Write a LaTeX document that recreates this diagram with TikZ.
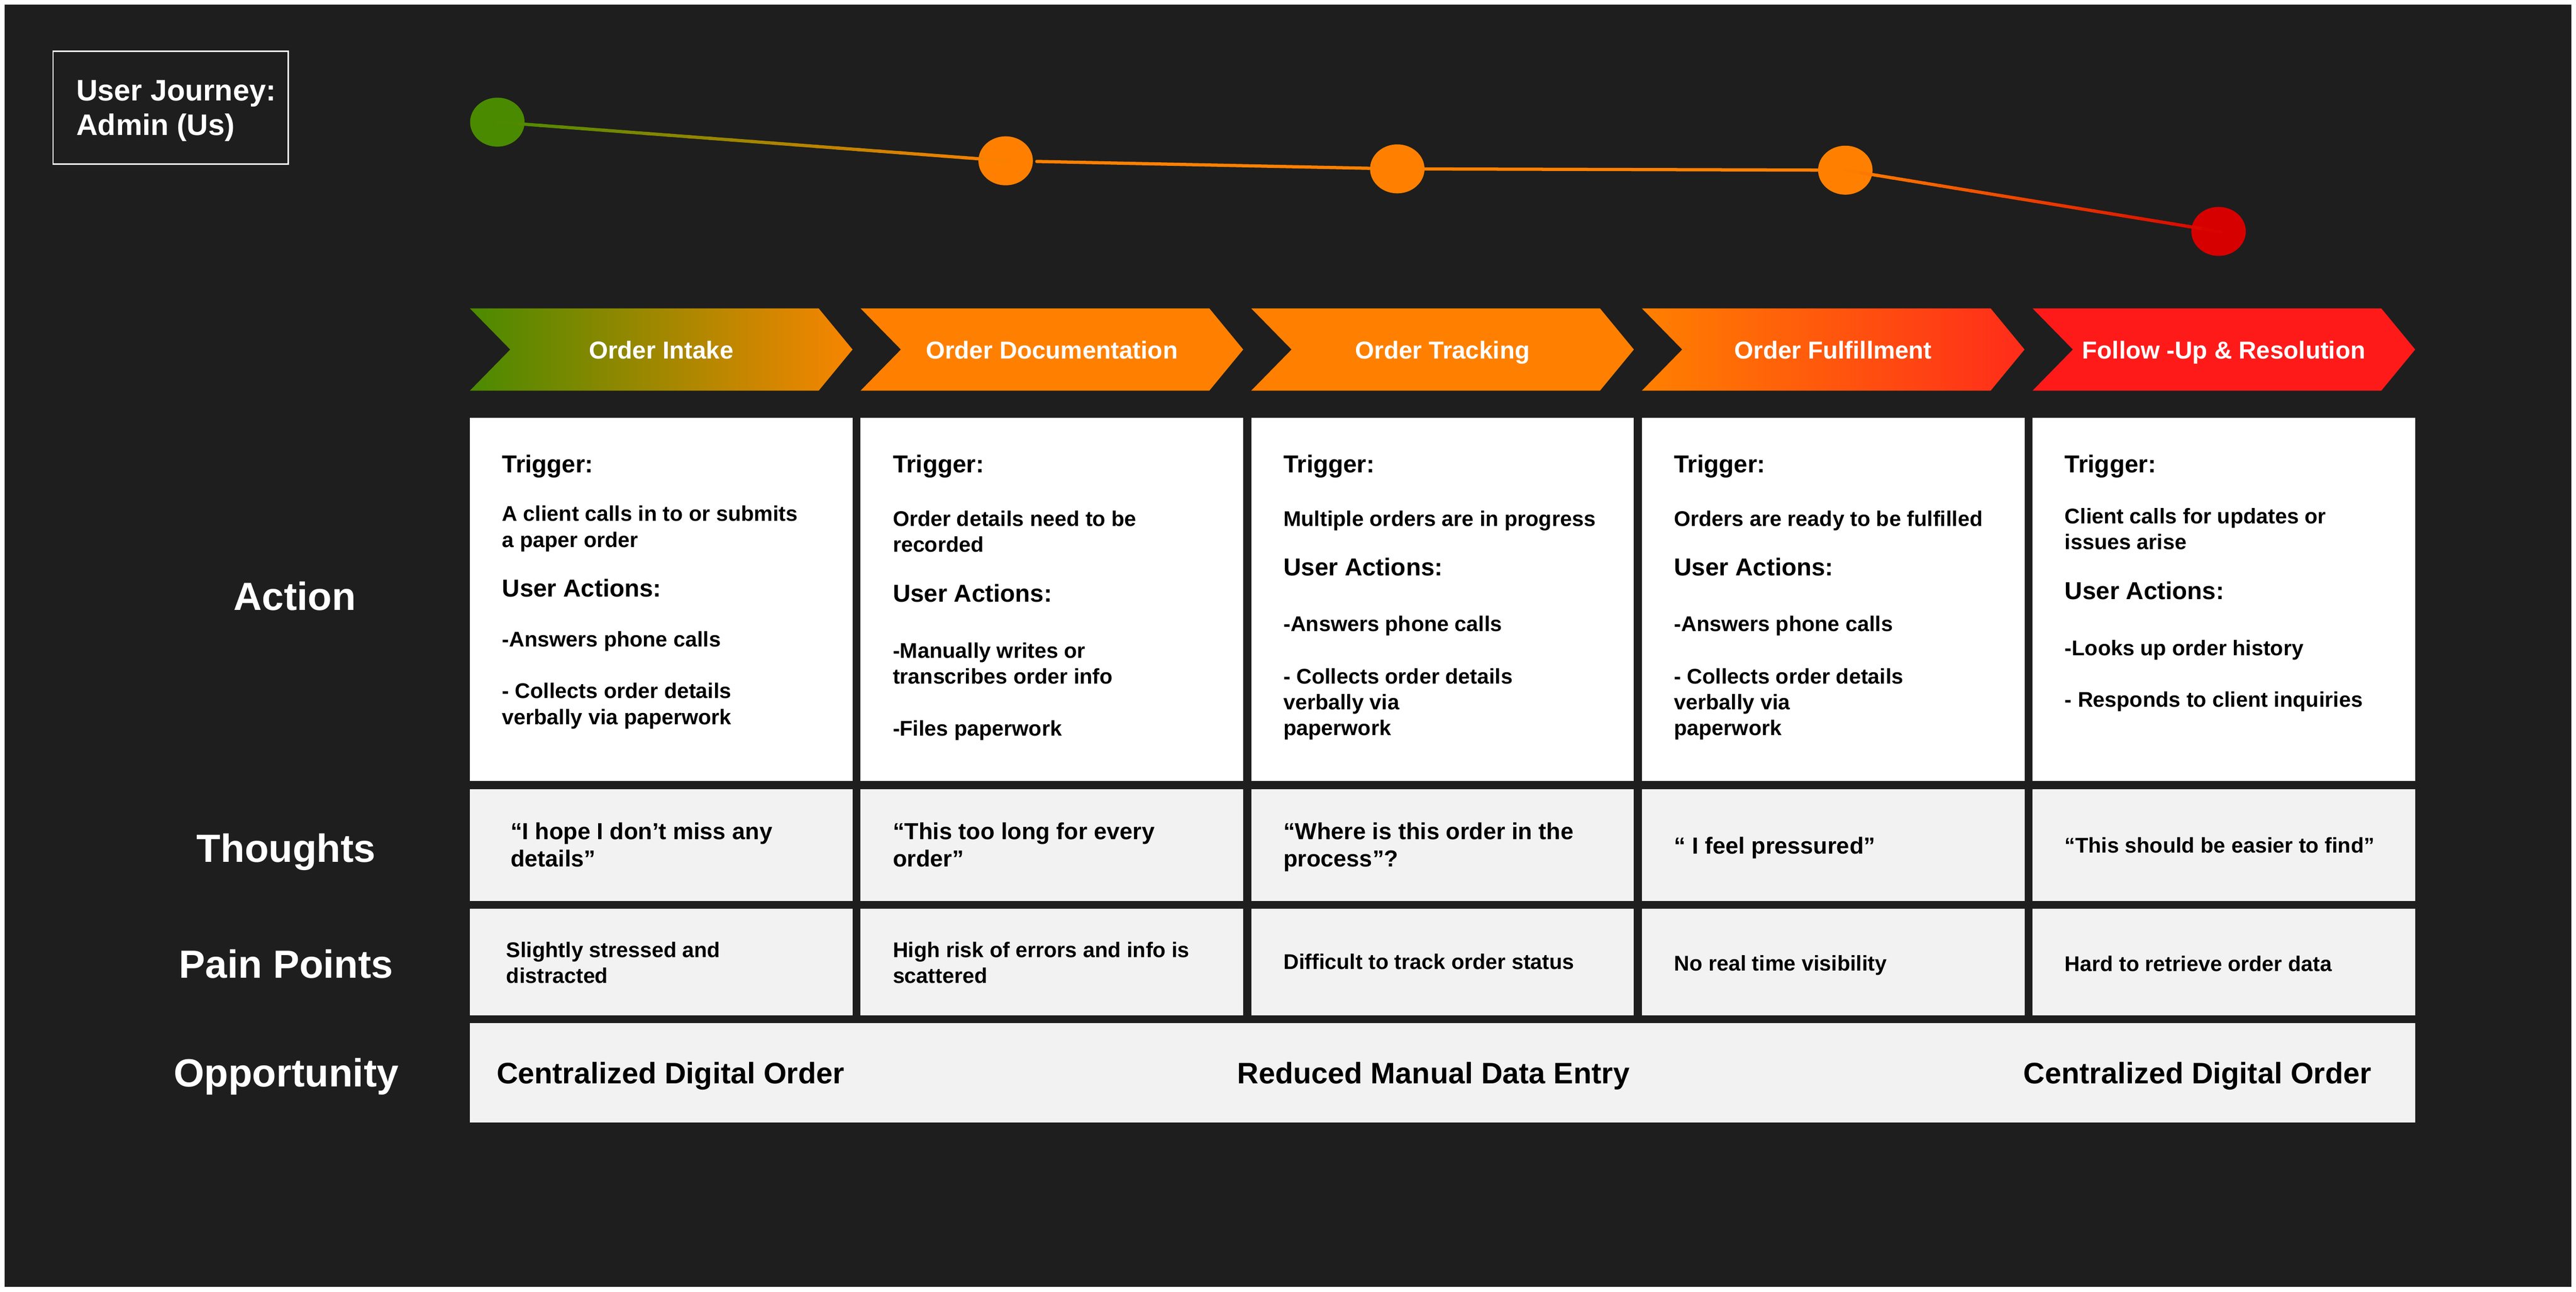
\documentclass[tikz,border=0pt]{standalone}
\usepackage{fontspec}
\setmainfont{Liberation Sans}
\usetikzlibrary{positioning,shapes.geometric,calc}
\definecolor{jbg}{HTML}{1E1E1E}
\definecolor{jgreen}{HTML}{4A8A00}
\definecolor{jorange}{HTML}{FF8000}
\definecolor{jorangeb}{HTML}{F88500}
\definecolor{jred}{HTML}{FF1A1A}
\definecolor{jredb}{HTML}{FF2C1A}
\definecolor{jdot}{HTML}{D60000}
\definecolor{jgray}{HTML}{F2F2F2}

\begin{document}
\begin{tikzpicture}[x=1pt, y=-1pt, font=\bfseries,
  cell/.style = {anchor=north west, minimum width=118.7pt, inner sep=0, outer sep=0},
  act/.style = {cell, fill=white, minimum height=112.7pt},
  thought/.style = {cell, fill=jgray, minimum height=34.8pt},
  pain/.style = {cell, fill=jgray, minimum height=33pt},
  dot/.style = {ellipse, minimum width=16.9pt, minimum height=15.2pt, inner sep=0},
  jline/.style = {line width=1pt, line cap=round},
  stagelbl/.style = {anchor=base, inner sep=0, text=white, font=\bfseries\fontsize{7.6}{9}\selectfont},
  rowlbl/.style = {anchor=base, inner sep=0, text=white, font=\bfseries\fontsize{12.2}{14}\selectfont},
  ttltxt/.style = {anchor=base west, inner sep=0, text=white, font=\bfseries\fontsize{9.2}{11}\selectfont},
  head/.style = {anchor=base west, inner sep=0, font=\bfseries\fontsize{7.6}{9}\selectfont},
  body/.style = {anchor=base west, inner sep=0, font=\bfseries\fontsize{6.6}{8}\selectfont},
  quote/.style = {body, font=\bfseries\fontsize{7.2}{8.5}\selectfont},
  opptxt/.style = {inner sep=0, font=\bfseries\fontsize{9.2}{11}\selectfont}]

% page
\fill[white] (0,0) rectangle (799.2,400.8);
\fill[jbg] (1.5,1.5) rectangle (797.7,399.3);

% title
\node[draw=white, line width=0.4pt, anchor=north west, minimum width=72.9pt, minimum height=35pt, inner sep=0] (ttl) at (16.3,15.7) {};
\node[ttltxt] (ttl1) at (23.5,31.3) {User Journey:};
\node[ttltxt] (ttl2) at (23.5,41.9) {Admin (Us)};

% journey line
\node[dot, fill=jgreen] (d1) at (154.3,37.9) {};
\node[dot, fill=jorange] (d2) at (312.0,49.9) {};
\node[dot, fill=jorange] (d3) at (433.5,52.4) {};
\node[dot, fill=jorange] (d4) at (572.5,52.8) {};
\node[dot, fill=jdot] (d5) at (688.3,71.8) {};
\foreach \i in {0,...,23} {
  \pgfmathsetmacro\ta{\i/24}
  \pgfmathsetmacro\tb{(\i+1.15)/24}
  \pgfmathtruncatemacro\p{100*(\i+0.5)/24}
  \draw[jline, jorange!\p!jgreen] ($(d1)!\ta!(d2)$) -- ($(d1)!\tb!(d2)$);
  \draw[jline, jdot!\p!jorange] ($(d4)!\ta!(d5)$) -- ($(d4)!\tb!(d5)$);
}
\draw[jline, jorange, shorten <=1pt] (d2) -- (d3);
\draw[jline, jorange] (d3) -- (d4);

% action row
\node[act] (a1) at (145.8,129.6) {};
\node[act] (a2) [right=2.5pt of a1] {};
\node[act] (a3) [right=2.5pt of a2] {};
\node[act] (a4) [right=2.5pt of a3] {};
\node[act] (a5) [right=2.5pt of a4] {};

% stages
\path[left color=jgreen, right color=jorangeb] ([yshift=33.9pt]a1.north west) -- ++(108.2,0) -- ++(10.5,12.75) -- ++(-10.5,12.75) -- ++(-108.2,0) -- ++(12.5,-12.75) -- cycle;
\path[fill=jorange] ([yshift=33.9pt]a2.north west) -- ++(108.2,0) -- ++(10.5,12.75) -- ++(-10.5,12.75) -- ++(-108.2,0) -- ++(12.5,-12.75) -- cycle;
\path[fill=jorange] ([yshift=33.9pt]a3.north west) -- ++(108.2,0) -- ++(10.5,12.75) -- ++(-10.5,12.75) -- ++(-108.2,0) -- ++(12.5,-12.75) -- cycle;
\path[left color=jorange, right color=jredb] ([yshift=33.9pt]a4.north west) -- ++(108.2,0) -- ++(10.5,12.75) -- ++(-10.5,12.75) -- ++(-108.2,0) -- ++(12.5,-12.75) -- cycle;
\path[fill=jred] ([yshift=33.9pt]a5.north west) -- ++(108.2,0) -- ++(10.5,12.75) -- ++(-10.5,12.75) -- ++(-108.2,0) -- ++(12.5,-12.75) -- cycle;
\foreach \lbl [count=\i] in {Order Intake, Order Documentation, Order Tracking, Order Fulfillment, Follow -Up \& Resolution}
  \node[stagelbl] (s\i) at ($(a\i.north)+(0,-18.3)$) {\lbl};

% action texts
\foreach \c/\u in {1/55.5, 2/57.2, 3/49.0, 4/49.0, 5/56.3} {
  \node[head] (tr\c) at ([shift={(9.8,17)}]a\c.north west) {Trigger:};
  \node[head] (ua\c) at ([shift={(9.8,\u)}]a\c.north west) {User Actions:};
}
\foreach \dy/\txt [count=\k] in {32.0/A client calls in to or submits, 40.2/a paper order, 71.1/-Answers phone calls, 87.0/- Collects order details, 95.2/verbally via paperwork}
  \node[body] (a1l\k) at ([shift={(9.8,\dy)}]a1.north west) {\txt};
\foreach \dy/\txt [count=\k] in {33.7/Order details need to be, 41.7/recorded, 74.6/-Manually writes or, 82.6/transcribes order info, 98.7/-Files paperwork}
  \node[body] (a2l\k) at ([shift={(9.8,\dy)}]a2.north west) {\txt};
\foreach \dy/\txt [count=\k] in {33.7/Multiple orders are in progress, 66.3/-Answers phone calls, 82.6/- Collects order details, 90.6/verbally via, 98.6/paperwork}
  \node[body] (a3l\k) at ([shift={(9.8,\dy)}]a3.north west) {\txt};
\foreach \dy/\txt [count=\k] in {33.7/Orders are ready to be fulfilled, 66.3/-Answers phone calls, 82.6/- Collects order details, 90.6/verbally via, 98.6/paperwork}
  \node[body] (a4l\k) at ([shift={(9.8,\dy)}]a4.north west) {\txt};
\foreach \dy/\txt [count=\k] in {32.8/Client calls for updates or, 40.9/issues arise, 73.8/-Looks up order history, 89.8/- Responds to client inquiries}
  \node[body] (a5l\k) at ([shift={(9.8,\dy)}]a5.north west) {\txt};

% thoughts row
\foreach \i in {1,...,5}
  \node[thought] (t\i) [below=2.5pt of a\i] {};
\node[quote] (t1l1) at ([shift={(12.4,15.7)}]t1.north west) {“I hope I don’t miss any};
\node[quote] (t1l2) at ([shift={(12.4,24.1)}]t1.north west) {details”};
\node[quote] (t2l1) at ([shift={(9.8,15.7)}]t2.north west) {“This too long for every};
\node[quote] (t2l2) at ([shift={(9.8,24.1)}]t2.north west) {order”};
\node[quote] (t3l1) at ([shift={(9.8,15.7)}]t3.north west) {“Where is this order in the};
\node[quote] (t3l2) at ([shift={(9.8,24.1)}]t3.north west) {process”?};
\node[quote] (t4l1) at ([shift={(9.8,20.1)}]t4.north west) {“ I feel pressured”};
\node[body] (t5l1) at ([shift={(9.8,19.8)}]t5.north west) {“This should be easier to find”};

% pain points row
\foreach \i in {1,...,5}
  \node[pain] (p\i) [below=2.4pt of t\i] {};
\node[body] (p1l1) at ([shift={(11.1,15.0)}]p1.north west) {Slightly stressed and};
\node[body] (p1l2) at ([shift={(11.1,23.0)}]p1.north west) {distracted};
\node[body] (p2l1) at ([shift={(9.8,15.0)}]p2.north west) {High risk of errors and info is};
\node[body] (p2l2) at ([shift={(9.8,23.0)}]p2.north west) {scattered};
\node[body] (p3l1) at ([shift={(9.8,18.8)}]p3.north west) {Difficult to track order status};
\node[body] (p4l1) at ([shift={(9.8,19.2)}]p4.north west) {No real time visibility};
\node[body] (p5l1) at ([shift={(9.8,19.4)}]p5.north west) {Hard to retrieve order data};

% opportunity row
\node[cell, fill=jgray, minimum width=603.5pt, minimum height=30.9pt] (opp) [below=2.4pt of p1.south west, anchor=north west] {};
\node[opptxt, anchor=base west] (o1) at ([shift={(8.1,18.8)}]opp.north west) {Centralized Digital Order};
\node[opptxt, anchor=base] (o2) at ($(opp.north)+(-2.8,18.8)$) {Reduced Manual Data Entry};
\node[opptxt, anchor=base east] (o3) at ([shift={(-13.4,18.8)}]opp.north east) {Centralized Digital Order};

% row labels
\node[rowlbl] (rAct) at (91.5,189.3) {Action};
\node[rowlbl] (rTho) at (88.8,267.5) {Thoughts};
\node[rowlbl] (rPain) at (88.8,303.5) {Pain Points};
\node[rowlbl] (rOpp) at (88.8,337.2) {Opportunity};
\end{tikzpicture}
\end{document}
